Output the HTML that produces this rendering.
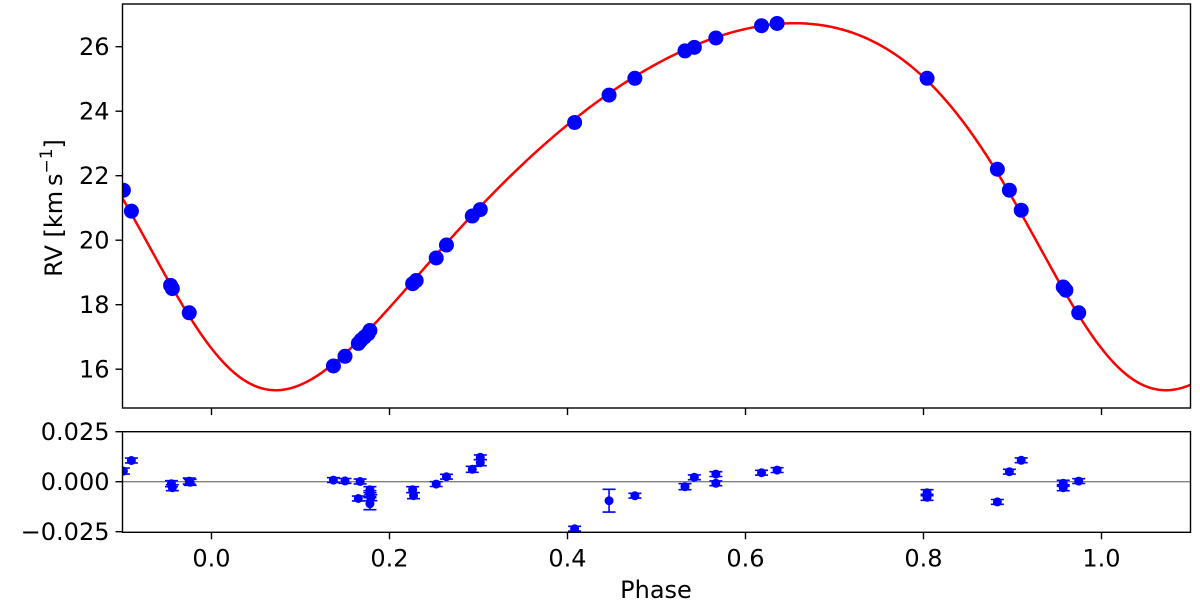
<!DOCTYPE html>
<html><head><meta charset="utf-8"><style>
html,body{margin:0;padding:0;background:#fff;width:1200px;height:600px;overflow:hidden}
svg text{font-family:"DejaVu Sans","Liberation Sans",sans-serif;fill:#000}
</style></head><body>
<svg id="chart" width="1200" height="600" viewBox="0 0 1200 600" xmlns="http://www.w3.org/2000/svg"></svg>
<script>
// ---- data ----
const rvPhase = [-0.099,-0.09,-0.046,-0.044,-0.025,0.137,0.15,0.165,0.168,0.172,0.176,0.178,0.226,0.23,0.2525,0.264,0.293,0.302,0.408,0.4467,0.4757,0.532,0.5425,0.5667,0.618,0.6355,0.804,0.883,0.8965,0.9098,0.957,0.96,0.9744];
const rvValue = [21.55,20.9,18.6,18.5,17.75,16.1,16.4,16.8,16.9,17.0,17.1,17.2,18.65,18.75,19.45,19.85,20.75,20.95,23.65,24.5,25.02,25.87,25.98,26.27,26.65,26.72,25.02,22.2,21.55,20.93,18.55,18.45,17.75];
// orbital model parameters (fit curve)
const orbitEcc = [0.207];
const orbitOmegaDeg = [141.5];
const orbitK = [5.69];
const orbitGamma = [21.96];
const orbitTperi = [0.0017];
const resPhase = [-0.099,-0.09,-0.045,-0.044,-0.025,-0.024,0.137,0.15,0.167,0.165,0.178,0.178,0.179,0.178,0.226,0.227,0.2525,0.264,0.293,0.302,0.302,0.408,0.4467,0.4757,0.532,0.5425,0.5667,0.5667,0.618,0.6355,0.804,0.804,0.883,0.8965,0.9098,0.957,0.957,0.9744];
const resValue = [0.0053,0.0106,-0.001,-0.003,0.0003,-0.0003,0.0008,0.0004,0.0001,-0.0084,-0.004,-0.006,-0.008,-0.011,-0.004,-0.007,-0.0012,0.0025,0.0062,0.0122,0.0095,-0.0235,-0.0095,-0.007,-0.0025,0.0022,0.0038,-0.0008,0.0045,0.0058,-0.0055,-0.0078,-0.0101,0.005,0.0107,-0.0008,-0.003,0.0003];
const resError = [0.0015,0.0012,0.0015,0.0015,0.0015,0.0015,0.0012,0.0012,0.0012,0.0012,0.0015,0.0015,0.0015,0.003,0.0015,0.0015,0.0012,0.0012,0.0015,0.0012,0.0015,0.0012,0.0057,0.0012,0.0015,0.0012,0.0012,0.0012,0.0012,0.0012,0.0015,0.0015,0.0012,0.0012,0.0012,0.0015,0.0015,0.0012];
const xTicks = [0.0,0.2,0.4,0.6,0.8,1.0];
const xTickLabels = ["0.0","0.2","0.4","0.6","0.8","1.0"];
const rvTicks = [16,18,20,22,24,26];
const resTicks = [0.025,0,-0.025];
const resTickLabels = ["0.025","0.000","\u22120.025"];

// ---- model ----
function modelRV(ph){
  const e=orbitEcc[0],w=orbitOmegaDeg[0]*Math.PI/180;
  let M=2*Math.PI*(ph-orbitTperi[0]);
  let E=M;for(let i=0;i<30;i++)E=E-(E-e*Math.sin(E)-M)/(1-e*Math.cos(E));
  const nu=2*Math.atan2(Math.sqrt(1+e)*Math.sin(E/2),Math.sqrt(1-e)*Math.cos(E/2));
  return orbitGamma[0]+orbitK[0]*(Math.cos(nu+w)+e*Math.cos(w));
}

// ---- scales ----
const L=122.5,R=1190.5;
const X=p=>L+(p+0.1)/1.2*(R-L);
const T1=4,B1=408;
const Y=v=>46.7+(26-v)*32.25;
const T2=431.7,B2=532.3;
const Yr=r=>481.7-r*2000;
const NS="http://www.w3.org/2000/svg";
const svg=document.getElementById('chart');
function mk(tag,attrs,parent){const e=document.createElementNS(NS,tag);for(const k in attrs)e.setAttribute(k,attrs[k]);(parent||svg).appendChild(e);return e;}

const defs=mk('defs',{});
const c1=mk('clipPath',{id:'c1'},defs);mk('rect',{x:L,y:T1,width:R-L,height:B1-T1},c1);
const c2=mk('clipPath',{id:'c2'},defs);mk('rect',{x:L,y:T2,width:R-L,height:B2-T2},c2);

// ---- top panel ----
const g1=mk('g',{'clip-path':'url(#c1)'});


let d='';
for(let i=0;i<=600;i++){const p=-0.1+1.2*i/600;d+=(i?'L':'M')+X(p).toFixed(2)+','+Y(modelRV(p)).toFixed(2);}
const curve=mk('path',{d:d,fill:'none',stroke:'#ff0000','stroke-width':2.5},g1);


rvPhase.forEach((p,i)=>{const c=mk('circle',{cx:X(p),cy:Y(rvValue[i]),r:7.5,fill:'#0000ff'},g1);

});
const f1=mk('rect',{x:L,y:T1,width:R-L,height:B1-T1,fill:'none',stroke:'#000','stroke-width':1.4});


rvTicks.forEach(v=>{mk('line',{x1:L-7,x2:L,y1:Y(v),y2:Y(v),stroke:'#000','stroke-width':1.4});
const t=mk('text',{x:L-13,y:Y(v)+8.5,'font-size':24,'text-anchor':'end'});t.textContent=v;

});
xTicks.forEach(p=>{mk('line',{x1:X(p),x2:X(p),y1:B1,y2:B1+7,stroke:'#000','stroke-width':1.4});});
const yl=mk('text',{x:0,y:0,'font-size':24,'text-anchor':'middle',transform:'translate(62,208) rotate(-90)'});
yl.innerHTML='RV [km\u2009s<tspan dy="-10" font-size="17">\u22121</tspan><tspan dy="10">]</tspan>';



// ---- residual panel ----
const g2=mk('g',{'clip-path':'url(#c2)'});


mk('line',{x1:L,x2:R,y1:Yr(0),y2:Yr(0),stroke:'#808080','stroke-width':1.4},g2);
resPhase.forEach((p,i)=>{const x=X(p),y=Yr(resValue[i]),e=resError[i]*2000;
const g=mk('g',{},g2);


mk('line',{x1:x,x2:x,y1:y-e,y2:y+e,stroke:'#0000ff','stroke-width':1.6},g);
mk('line',{x1:x-6.5,x2:x+6.5,y1:y-e,y2:y-e,stroke:'#0000ff','stroke-width':1.6},g);
mk('line',{x1:x-6.5,x2:x+6.5,y1:y+e,y2:y+e,stroke:'#0000ff','stroke-width':1.6},g);
mk('circle',{cx:x,cy:y,r:4.5,fill:'#0000ff'},g);});
const f2=mk('rect',{x:L,y:T2,width:R-L,height:B2-T2,fill:'none',stroke:'#000','stroke-width':1.4});


resTicks.forEach((v,i)=>{mk('line',{x1:L-7,x2:L,y1:Yr(v),y2:Yr(v),stroke:'#000','stroke-width':1.4});
const t=mk('text',{x:L-13,y:Yr(v)+8.5,'font-size':24,'text-anchor':'end'});t.textContent=resTickLabels[i];

});
xTicks.forEach((p,i)=>{mk('line',{x1:X(p),x2:X(p),y1:B2,y2:B2+7,stroke:'#000','stroke-width':1.4});
const t=mk('text',{x:X(p),y:B2+34,'font-size':24,'text-anchor':'middle'});t.textContent=xTickLabels[i];

});
const rl=mk('text',{x:0,y:0,'font-size':24,'text-anchor':'middle',transform:'translate(-2,482) rotate(-90)'});
rl.textContent='O\u2212C';


const xl=mk('text',{x:656,y:598,'font-size':24,'text-anchor':'middle'});
xl.textContent='Phase';


</script>
</body></html>
